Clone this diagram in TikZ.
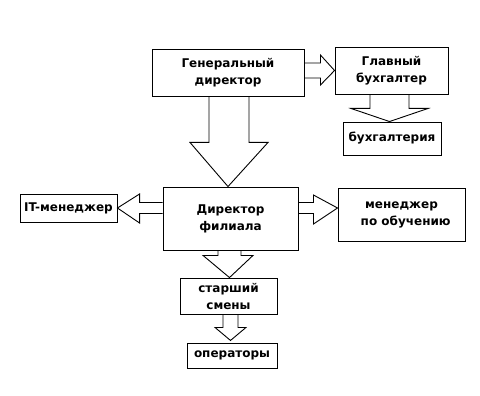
\documentclass[tikz,border=0pt]{standalone}
\usepackage{fontspec}
\setmainfont{DejaVu Sans}
\usetikzlibrary{calc}
\tikzset{
  box/.style={draw, line width=0.9pt, inner sep=0pt, align=center,
    font=\fontsize{12}{17}\selectfont\bfseries},
  arr/.style={draw, line width=0.9pt, line join=miter}
}
\begin{document}
\begin{tikzpicture}[x=1pt,y=-1pt]
\useasboundingbox (0,0) rectangle (480,396);
% boxes
\node[box, minimum width=152pt, minimum height=47pt] (gd) at (228,72.5) {Генеральный\\директор};
\node[box, minimum width=113pt, minimum height=47pt] (gb) at (391.5,70.5) {Главный\\бухгалтер};
\node[box, minimum width=98pt, minimum height=33pt] (bu) at (392,138.5) {бухгалтерия};
\node[box, minimum width=135pt, minimum height=63pt] (df) at (230.5,218.5) {Директор\\филиала};
\node[box, minimum width=97pt, minimum height=28pt] (it) at (68.5,208) {IT-менеджер};
\node[box, minimum width=127pt, minimum height=53pt] (mo) at (401.5,214.5) {менеджер\\\ \ по обучению};
\node[box, minimum width=97pt, minimum height=36pt] (ss) at (228.5,296) {старший\\смены};
\node[box, minimum width=90pt, minimum height=25pt] (op) at (232,355.5) {операторы};
% arrow gd -> df
\draw[arr] ($(gd.south)+(-19,0)$) -- ($(gd.south)+(-19,46)$) -- ($(gd.south)+(-38,46)$)
  -- (df.north -| gd.south) -- ($(gd.south)+(40,46)$) -- ($(gd.south)+(21,46)$) -- ($(gd.south)+(21,0)$);
% arrow gd -> gb
\coordinate (b0) at (gd.east |- gb.west);
\draw[arr] ($(b0)+(0,-7.5)$) -- ($(b0)+(16,-7.5)$) -- ($(b0)+(16,-15.5)$) -- (gb.west)
  -- ($(b0)+(16,14.5)$) -- ($(b0)+(16,7.5)$) -- ($(b0)+(0,7.5)$);
% arrow gb -> bu
\coordinate (c0) at ($(gb.south)+(-2,0)$);
\draw[arr] ($(c0)+(-19.5,0)$) -- ($(c0)+(-19.5,14)$) -- ($(c0)+(-38.5,14)$) -- (c0 |- bu.north)
  -- ($(c0)+(38.5,14)$) -- ($(c0)+(19.5,14)$) -- ($(c0)+(19.5,0)$);
% arrow df -> it
\coordinate (d0) at (df.west |- it.east);
\draw[arr] ($(d0)+(0,-5.5)$) -- ($(d0)+(-23,-5.5)$) -- ($(d0)+(-23,-14)$) -- (it.east)
  -- ($(d0)+(-23,15)$) -- ($(d0)+(-23,5.5)$) -- ($(d0)+(0,5.5)$);
% arrow df -> mo
\coordinate (e0) at (df.east |- it.east);
\draw[arr] ($(e0)+(0,-5.5)$) -- ($(e0)+(15,-5.5)$) -- ($(e0)+(15,-13)$) -- (mo.west |- it.east)
  -- ($(e0)+(15,16)$) -- ($(e0)+(15,5.5)$) -- ($(e0)+(0,5.5)$);
% arrow df -> ss
\coordinate (f0) at ($(df.south)+(-1,0)$);
\draw[arr] ($(f0)+(-11.5,0)$) -- ($(f0)+(-11.5,5)$) -- ($(f0)+(-26.5,5)$) -- (f0 |- ss.north)
  -- ($(f0)+(23.5,5)$) -- ($(f0)+(11.5,5)$) -- ($(f0)+(11.5,0)$);
% arrow ss -> op
\coordinate (g0) at ($(ss.south)+(2,0)$);
\draw[arr] ($(g0)+(-7.5,0)$) -- ($(g0)+(-7.5,13)$) -- ($(g0)+(-15.5,13)$) -- ($(g0)+(0,26)$)
  -- ($(g0)+(15.5,13)$) -- ($(g0)+(7.5,13)$) -- ($(g0)+(7.5,0)$);
\end{tikzpicture}
\end{document}
